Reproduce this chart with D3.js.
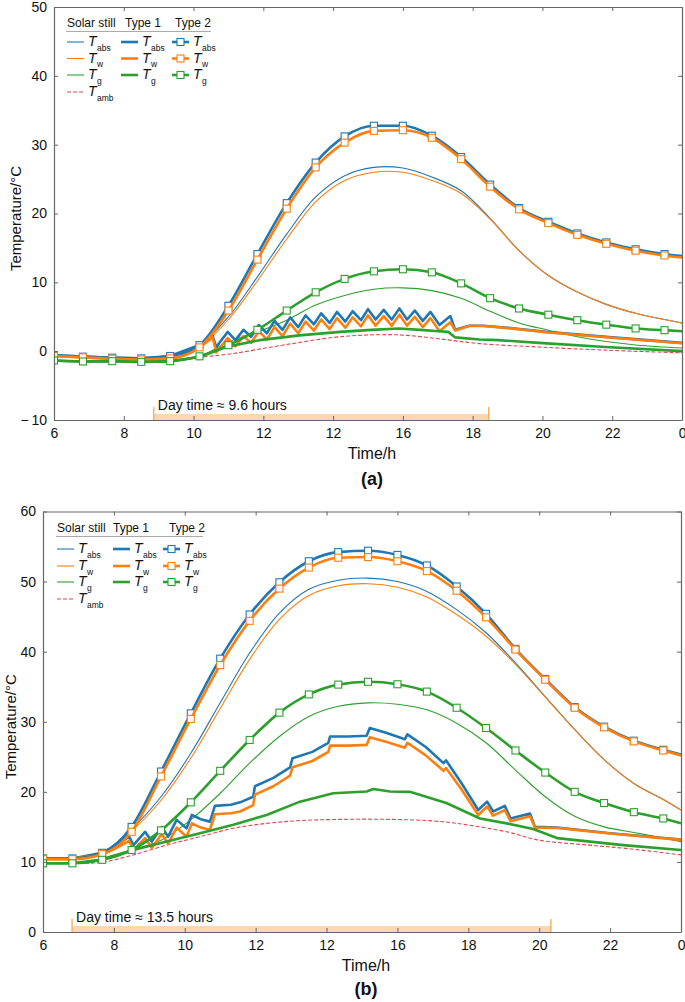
<!DOCTYPE html>
<html><head><meta charset="utf-8">
<script src="https://cdn.jsdelivr.net/npm/d3@7"></script>
<style>
body{margin:0;background:#fff;}
svg{display:block;font-family:"Liberation Sans",Arial,Helvetica,sans-serif;}
</style></head>
<body><svg id="chart" width="685" height="1002"></svg>
<script>
// ---------- shared ----------
const xTickHours = [6, 8, 10, 12, 14, 16, 18, 20, 22, 24];
const xTickLabels = ["6", "8", "10", "12", "12", "16", "18", "20", "22", "0"];
const markerHours = [6, 6.83, 7.67, 8.5, 9.33, 10.17, 11, 11.83, 12.67, 13.5, 14.33, 15.17, 16, 16.83, 17.67, 18.5, 19.33, 20.17, 21, 21.83, 22.67, 23.5, 24];

// ---------- panel (a) ----------
const aYTicks = [-10, 0, 10, 20, 30, 40, 50];
const aYTickLabels = ["\u2212\u200910", "0", "10", "20", "30", "40", "50"];
const aDay = [8.86, 18.46];
const aDayText = "Day time \u2248 9.6 hours";
// Type 2 (on markerHours)
const aT2Abs = [-0.6, -0.8, -0.95, -1.05, -0.7, 0.87, 6.6, 14.1, 21.5, 27.4, 31.2, 32.75, 32.75, 31.3, 28.2, 24.2, 20.8, 18.8, 17.1, 15.8, 14.8, 14.1, 13.8];
const aT2W = [-0.7, -0.9, -1.1, -1.2, -1.05, 0.55, 5.9, 13.3, 20.7, 26.7, 30.3, 32.0, 32.1, 31.0, 27.9, 23.9, 20.6, 18.6, 16.9, 15.6, 14.6, 13.9, 13.6];
const aT2G = [-1.35, -1.5, -1.45, -1.55, -1.45, -0.75, 0.87, 3.1, 5.9, 8.55, 10.5, 11.6, 11.9, 11.45, 9.85, 7.7, 6.2, 5.3, 4.5, 3.85, 3.3, 3.05, 2.9];
// Solar still (on markerHours)
const aSSAbs = [-0.6, -0.8, -0.95, -1.05, -0.7, 0.9, 5.0, 10.8, 17.0, 22.4, 25.5, 26.7, 26.6, 25.3, 23.3, 19.3, 14.6, 11.0, 8.6, 6.8, 5.5, 4.6, 4.1];
const aSSW = [-0.7, -0.9, -1.1, -1.2, -1.05, 0.6, 4.6, 10.2, 16.3, 21.7, 24.8, 26.0, 26.0, 24.8, 22.9, 19.2, 14.6, 11.0, 8.6, 6.8, 5.5, 4.6, 4.1];
const aSSG = [-1.35, -1.5, -1.45, -1.55, -1.45, -0.75, 1.35, 2.8, 4.5, 6.7, 8.1, 9.0, 9.2, 8.8, 7.7, 5.8, 4.1, 3.05, 2.1, 1.4, 0.9, 0.6, 0.45];
// Ambient
const aAmbHours = [6, 7, 8, 9, 9.3, 10, 11.12, 12.55, 14.2, 15.5, 16.1, 17.03, 18.2, 19.9, 21.8, 24];
const aAmb = [-1.4, -1.5, -1.55, -1.6, -1.55, -1.0, -0.35, 0.87, 2.1, 2.4, 2.3, 1.8, 1.1, 0.6, 0.15, -0.25];
// Type 1
const aT1Hours = [6, 6.83, 7.67, 8.5, 9.33, 10.17, 10.55, 10.65, 10.98, 11.2, 11.43, 11.65, 11.87, 12.1, 12.32, 12.55, 12.77, 13.0, 13.21, 13.45, 13.66, 13.9, 14.11, 14.35, 14.56, 14.8, 15.0, 15.22, 15.45, 15.68, 15.9, 16.12, 16.34, 16.57, 16.79, 17.05, 17.36, 17.5, 17.9, 18.3, 19.0, 20.1, 22.0, 24];
const aT1Abs = [-0.6, -0.8, -0.95, -1.05, -0.7, 0.9, 2.2, 0.6, 2.8, 1.6, 3.1, 2.1, 3.8, 2.6, 4.4, 3.1, 4.9, 3.5, 5.2, 3.9, 5.5, 4.1, 5.7, 4.3, 5.8, 4.5, 6.1, 4.6, 6.0, 4.6, 6.2, 4.6, 5.9, 4.4, 5.7, 3.8, 5.1, 3.1, 3.7, 3.7, 3.4, 2.8, 2.0, 1.2];
const aT1W = [-0.7, -0.9, -1.1, -1.2, -1.05, 0.55, 2.0, -0.2, 1.9, 0.7, 2.2, 1.2, 2.9, 1.7, 3.5, 2.2, 4.0, 2.6, 4.3, 3.0, 4.6, 3.2, 4.8, 3.4, 4.9, 3.6, 5.2, 3.7, 5.1, 3.7, 5.3, 3.7, 5.0, 3.5, 4.8, 2.9, 4.2, 3.0, 3.65, 3.65, 3.35, 2.75, 1.95, 1.15];
const aT1GHours = [6, 6.83, 7.67, 8.5, 9.33, 10.17, 10.93, 11.89, 13.03, 14.2, 15.1, 15.89, 16.5, 17.03, 17.3, 17.5, 18.2, 18.74, 19.9, 21.8, 24];
const aT1G = [-1.35, -1.5, -1.45, -1.55, -1.45, -0.85, 0.6, 1.6, 2.3, 2.8, 3.1, 3.3, 3.1, 2.9, 2.8, 2.0, 1.7, 1.6, 1.2, 0.6, 0.0];

// ---------- panel (b) ----------
const bYTicks = [0, 10, 20, 30, 40, 50, 60];
const bYTickLabels = ["0", "10", "20", "30", "40", "50", "60"];
const bDay = [6.82, 20.33];
const bDayText = "Day time \u2248 13.5 hours";
const bT2Abs = [10.5, 10.5, 11.3, 15.0, 22.9, 31.2, 39.0, 45.3, 49.9, 52.9, 54.2, 54.4, 53.8, 52.3, 49.3, 45.4, 40.4, 36.1, 32.1, 29.3, 27.3, 26.0, 25.3];
const bT2W = [10.4, 10.4, 11.1, 14.3, 22.2, 30.4, 38.1, 44.4, 49.0, 52.0, 53.4, 53.5, 52.9, 51.5, 48.7, 44.9, 40.3, 36.0, 32.0, 29.2, 27.2, 25.9, 25.2];
const bT2G = [9.8, 9.8, 10.3, 11.7, 14.5, 18.5, 23.0, 27.4, 31.3, 33.9, 35.3, 35.7, 35.35, 34.3, 32.0, 29.1, 25.9, 22.75, 20.0, 18.4, 17.1, 16.2, 15.5];
const bSSAbs = [10.5, 10.5, 11.3, 14.7, 19.3, 25.5, 32.7, 39.8, 45.5, 48.9, 50.2, 50.5, 50.0, 48.6, 46.0, 42.7, 38.4, 33.6, 28.9, 24.6, 21.2, 18.9, 17.4];
const bSSW = [10.4, 10.4, 11.2, 14.4, 18.8, 24.8, 31.9, 38.9, 44.6, 48.0, 49.4, 49.7, 49.2, 47.8, 45.3, 42.2, 38.2, 33.5, 28.9, 24.6, 21.2, 18.9, 17.4];
const bSSG = [9.8, 9.8, 10.3, 11.7, 13.1, 16.0, 19.8, 24.1, 27.9, 30.75, 32.2, 32.7, 32.5, 31.7, 29.8, 27.0, 23.1, 19.3, 16.5, 15.0, 14.2, 13.4, 12.9];
const bAmbHours = [6, 7, 7.67, 8.55, 9.49, 10.43, 11.37, 12.31, 13.25, 14.2, 15.13, 16.0, 17.0, 17.67, 19.08, 20.0, 21.4, 22.5, 24];
const bAmb = [9.8, 9.8, 9.95, 11.0, 12.4, 13.6, 14.8, 15.5, 15.9, 16.05, 16.1, 16.05, 15.85, 15.5, 14.3, 13.1, 12.4, 11.9, 11.0];
const bT1Hours = [6, 6.83, 7.67, 8.0, 8.43, 8.55, 8.88, 9.07, 9.35, 9.53, 9.77, 10.05, 10.2, 10.45, 10.71, 10.85, 11.3, 11.56, 11.93, 11.98, 12.5, 12.97, 13.04, 13.6, 14.05, 14.1, 14.6, 15.13, 15.22, 15.7, 16.21, 16.28, 16.8, 17.3, 17.37, 17.8, 18.28, 18.53, 18.7, 19.03, 19.19, 19.74, 19.88, 20.5, 22.0, 24];
const bT1Abs = [10.5, 10.5, 11.3, 12.2, 13.6, 12.4, 14.3, 12.9, 15.0, 13.6, 16.0, 14.8, 16.7, 16.1, 15.75, 18.0, 18.15, 18.5, 19.3, 20.8, 22.0, 23.5, 24.8, 25.7, 27.0, 27.9, 27.9, 28.0, 29.1, 28.4, 27.5, 28.2, 26.4, 24.1, 24.5, 21.3, 17.4, 18.6, 17.2, 18.0, 16.2, 16.9, 15.0, 14.9, 14.1, 13.2];
const bT1W = [10.4, 10.4, 11.1, 11.8, 13.0, 11.7, 13.4, 12.0, 14.0, 12.6, 14.9, 13.6, 15.5, 14.9, 14.6, 16.8, 16.95, 17.2, 18.1, 19.6, 20.8, 22.3, 23.5, 24.4, 25.7, 26.6, 26.6, 26.7, 27.8, 27.1, 26.3, 27.0, 25.2, 23.0, 23.4, 20.4, 16.7, 17.9, 16.6, 17.4, 15.8, 16.5, 14.9, 14.85, 14.05, 13.15];
const bT1GHours = [6, 6.83, 7.6, 8.55, 9.49, 10.43, 11.37, 12.31, 13.25, 14.19, 15.13, 15.32, 15.79, 16.35, 17.38, 18.33, 19.08, 19.83, 20.5, 22.37, 24];
const bT1G = [9.8, 9.8, 10.3, 11.7, 12.9, 14.1, 15.3, 16.7, 18.6, 19.8, 20.05, 20.4, 20.05, 20.0, 18.4, 16.2, 15.5, 14.7, 13.4, 12.4, 11.7];

// ---------- drawing ----------
const C = {blue: "#1f77b4", orange: "#ff7f0e", green: "#2ca02c", red: "#e0474c", axis: "#666"};
const svg = d3.select("#chart");

function pairs(hs, vs) { return hs.map((h, i) => [h, vs[i]]); }

function drawPanel(cfg, id) {
  const x = d3.scaleLinear().domain([6, 24]).range([cfg.x0, cfg.x1]);
  const y = d3.scaleLinear().domain(cfg.yDomain).range([cfg.yBot, cfg.yTop]);
  const g = svg.append("g");
  svg.append("clipPath").attr("id", "clip" + id).append("rect")
    .attr("x", cfg.x0).attr("y", cfg.yTop).attr("width", cfg.x1 - cfg.x0).attr("height", cfg.yBot - cfg.yTop);

  // day bar
  const dx0 = x(cfg.day[0]), dx1 = x(cfg.day[1]);
  g.append("rect").attr("x", dx0).attr("y", cfg.yBot - 6).attr("width", dx1 - dx0).attr("height", 6).attr("fill", "#fcd7b0");
  [dx0, dx1].forEach(v => g.append("line").attr("x1", v).attr("x2", v).attr("y1", cfg.yBot).attr("y2", cfg.yBot - 13)
    .attr("stroke", "#f7a758").attr("stroke-width", 1.3));
  g.append("text").attr("x", dx0 + 4).attr("y", cfg.dayTextY).attr("font-size", 14).attr("fill", "#111").text(cfg.dayText);

  const plot = g.append("g").attr("clip-path", `url(#clip${id})`);
  const smooth = d3.line().x(d => x(d[0])).y(d => y(d[1])).curve(d3.curveMonotoneX);
  const soft = d3.line().x(d => x(d[0])).y(d => y(d[1])).curve(d3.curveCatmullRom.alpha(0.5));
  const straight = d3.line().x(d => x(d[0])).y(d => y(d[1]));

  function path(data, gen, color, w, dash) {
    const p = plot.append("path").attr("d", gen(data)).attr("fill", "none").attr("stroke", color)
      .attr("stroke-width", w).attr("stroke-linejoin", "round");
    if (dash) p.attr("stroke-dasharray", dash);
  }
  // solar still
  path(pairs(markerHours, cfg.ssAbs), soft, C.blue, 1.1);
  path(pairs(markerHours, cfg.ssW), soft, C.orange, 1.1);
  path(pairs(markerHours, cfg.ssG), soft, C.green, 1.1);
  path(pairs(cfg.ambH, cfg.amb), soft, C.red, 1.1, "4,2");
  // type 1
  path(pairs(cfg.t1H, cfg.t1Abs), straight, C.blue, 2.6);
  path(pairs(cfg.t1H, cfg.t1W), straight, C.orange, 2.6);
  path(pairs(cfg.t1GH, cfg.t1G), straight, C.green, 2.6);
  // type 2
  [[cfg.t2Abs, C.blue], [cfg.t2W, C.orange], [cfg.t2G, C.green]].forEach(([vals, col]) => {
    const d = pairs(markerHours, vals);
    path(d, smooth, col, 2.6);
    plot.selectAll(null).data(d.filter(p => p[0] < 24)).enter().append("rect")
      .attr("x", p => x(p[0]) - 3.5).attr("y", p => y(p[1]) - 3.5).attr("width", 7).attr("height", 7)
      .attr("fill", "#fff").attr("stroke", col).attr("stroke-width", 1.1);
  });

  // axes
  const fmtX = (d, i) => xTickLabels[i];
  const bottom = d3.axisBottom(x).tickValues(xTickHours).tickFormat(fmtX).tickSizeInner(-4).tickSizeOuter(0).tickPadding(8);
  const top = d3.axisTop(x).tickValues(xTickHours).tickFormat("").tickSizeInner(-4).tickSizeOuter(0);
  const left = d3.axisLeft(y).tickValues(cfg.yTicks).tickFormat((d, i) => cfg.yTickLabels[i]).tickSizeInner(-4).tickSizeOuter(0).tickPadding(7);
  const right = d3.axisRight(y).tickValues(cfg.yTicks).tickFormat("").tickSizeInner(-4).tickSizeOuter(0);
  const axes = [
    g.append("g").attr("transform", `translate(0,${cfg.yBot})`).call(bottom),
    g.append("g").attr("transform", `translate(0,${cfg.yTop})`).call(top),
    g.append("g").attr("transform", `translate(${cfg.x0},0)`).call(left),
    g.append("g").attr("transform", `translate(${cfg.x1},0)`).call(right)
  ];
  axes.forEach(a => {
    a.select(".domain").attr("stroke", C.axis).attr("stroke-width", 1.2);
    a.selectAll(".tick line").attr("stroke", C.axis);
    a.selectAll(".tick text").attr("font-size", 14).attr("fill", "#111").attr("font-family", "Liberation Sans, Arial, sans-serif");
  });
  // keep the last x label inside the page
  axes[0].selectAll(".tick text").filter((d, i) => i === xTickHours.length - 1).attr("text-anchor", "end").attr("dx", 4);

  // axis titles
  g.append("text").attr("transform", `translate(${cfg.yLabelX},${(cfg.yTop + cfg.yBot) / 2 + 5}) rotate(-90)`)
    .attr("text-anchor", "middle").attr("font-size", 15).attr("fill", "#111").text("Temperature/\u00B0C");
  g.append("text").attr("x", (cfg.x0 + cfg.x1) / 2 + 4).attr("y", cfg.yBot + 39).attr("text-anchor", "middle")
    .attr("font-size", 16).attr("fill", "#111").text("Time/h");
  g.append("text").attr("x", (cfg.x0 + cfg.x1) / 2 + 4).attr("y", cfg.panelLabelY).attr("text-anchor", "middle")
    .attr("font-size", 18).attr("font-weight", "bold").attr("fill", "#111").text(cfg.panelLabel);

  // legend
  const L = cfg.legend;
  const lg = g.append("g");
  const heads = ["Solar still", "Type 1", "Type 2"];
  heads.forEach((h, i) => lg.append("text").attr("x", L.headX[i]).attr("y", L.headY).attr("font-size", 12).attr("fill", "#111").text(h));
  lg.append("line").attr("x1", L.lineX[0]).attr("x2", L.lineX[1]).attr("y1", L.headY + 4.5).attr("y2", L.headY + 4.5).attr("stroke", "#aaa").attr("stroke-width", 1);
  const rows = [["abs", C.blue], ["w", C.orange], ["g", C.green]];
  function entry(col, row, color, w, marker, sub, dash) {
    const sx = L.sampleX[col], ry = L.rowY[row];
    const ln = lg.append("line").attr("x1", sx).attr("x2", sx + 17).attr("y1", ry).attr("y2", ry)
      .attr("stroke", color).attr("stroke-width", w);
    if (dash) ln.attr("stroke-dasharray", dash);
    if (marker) lg.append("rect").attr("x", sx + 5).attr("y", ry - 3.5).attr("width", 7).attr("height", 7)
      .attr("fill", "#fff").attr("stroke", color).attr("stroke-width", 1.1);
    const t = lg.append("text").attr("x", sx + 21).attr("y", ry + 4).attr("fill", "#111");
    t.append("tspan").attr("font-style", "italic").attr("font-size", 14).text("T");
    t.append("tspan").attr("font-size", 8.5).attr("dy", 4.5).attr("dx", 0.5).text(sub);
  }
  rows.forEach(([sub, color], r) => {
    entry(0, r, color, 1.1, false, sub);
    entry(1, r, color, 2.6, false, sub);
    entry(2, r, color, 2.6, true, sub);
  });
  entry(0, 3, C.red, 1.1, false, "amb", "4,2");
}

drawPanel({
  x0: 54, x1: 682, yTop: 7, yBot: 420, yDomain: [-10, 50], yTicks: aYTicks, yTickLabels: aYTickLabels,
  day: aDay, dayText: aDayText, dayTextY: 410,
  t2Abs: aT2Abs, t2W: aT2W, t2G: aT2G, ssAbs: aSSAbs, ssW: aSSW, ssG: aSSG,
  ambH: aAmbHours, amb: aAmb, t1H: aT1Hours, t1Abs: aT1Abs, t1W: aT1W, t1GH: aT1GHours, t1G: aT1G,
  yLabelX: 21, panelLabel: "(a)", panelLabelY: 485,
  legend: {headX: [67, 125, 175], headY: 27, lineX: [66, 211], sampleX: [67, 121, 172], rowY: [42, 58.5, 75, 92]}
}, "a");

drawPanel({
  x0: 43, x1: 681, yTop: 511.5, yBot: 932, yDomain: [0, 60], yTicks: bYTicks, yTickLabels: bYTickLabels,
  day: bDay, dayText: bDayText, dayTextY: 922,
  t2Abs: bT2Abs, t2W: bT2W, t2G: bT2G, ssAbs: bSSAbs, ssW: bSSW, ssG: bSSG,
  ambH: bAmbHours, amb: bAmb, t1H: bT1Hours, t1Abs: bT1Abs, t1W: bT1W, t1GH: bT1GHours, t1G: bT1G,
  yLabelX: 16, panelLabel: "(b)", panelLabelY: 995,
  legend: {headX: [57, 113, 169], headY: 532, lineX: [56, 203], sampleX: [57, 113, 163], rowY: [549, 566, 582, 599]}
}, "b");
</script></body></html>
